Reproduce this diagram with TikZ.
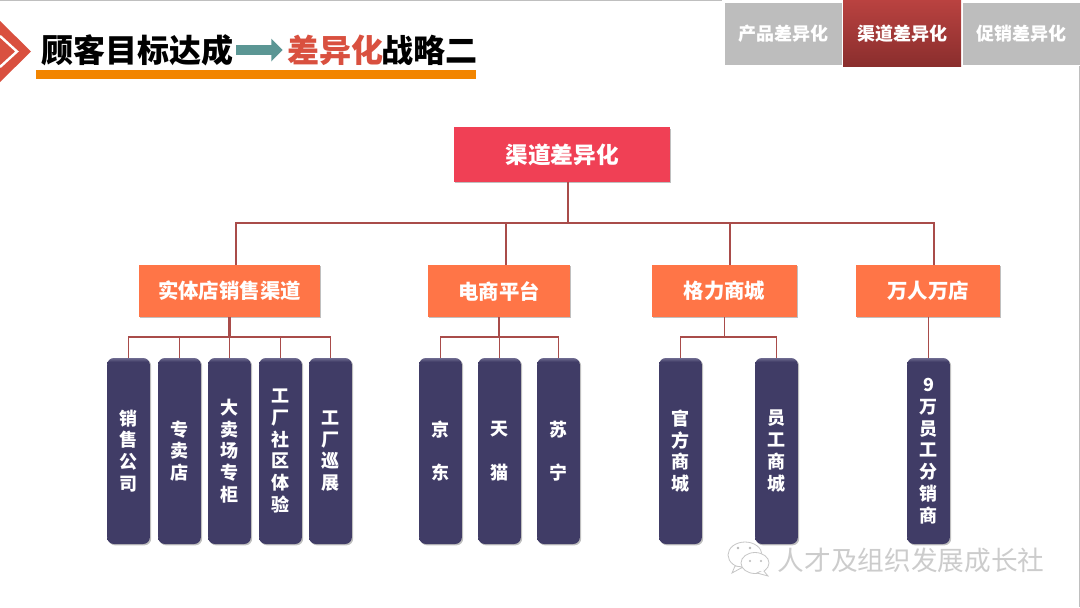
\documentclass[tikz,border=0pt]{standalone}
\usepackage{fontspec}
\setmainfont{Noto Sans CJK SC}[BoldFont={Noto Sans CJK SC Black}]
\usetikzlibrary{arrows.meta, shadows}

\definecolor{leafblue}{HTML}{403C66}
\definecolor{leaftop}{HTML}{6E6B90}
\definecolor{branchorange}{HTML}{FF7547}
\definecolor{rootred}{HTML}{F04055}
\definecolor{linkred}{HTML}{A94C4A}
\definecolor{titlered}{HTML}{D9503F}
\definecolor{barorange}{HTML}{F28500}
\definecolor{arrowteal}{HTML}{5B9694}
\definecolor{tabgray}{HTML}{BDBDBD}
\definecolor{tabred}{HTML}{B94240}
\definecolor{tabdark}{HTML}{8A2E2D}

\pgfdeclareverticalshading{leafshade}{100bp}{color(0bp)=(leafblue); color(74bp)=(leafblue); color(75bp)=(leaftop); color(100bp)=(leaftop)}

\tikzset{
	softshadow/.style={drop shadow={shadow xshift=1pt, shadow yshift=-1pt, opacity=.25, fill=black}},
	rootbox/.style={fill=rootred, softshadow, text=white, font=\fontsize{17}{20}\selectfont\bfseries, minimum width=162pt, minimum height=41pt, inner sep=0pt},
	branchbox/.style={fill=branchorange, softshadow, text=white, font=\fontsize{15.3}{18}\selectfont\bfseries, minimum height=39pt, inner sep=0pt},
	leafbox/.style={rounded corners=5pt, shading=leafshade, softshadow, text=white, font=\fontsize{13.5}{16.3}\selectfont\bfseries, minimum width=32pt, minimum height=139.5pt, inner sep=0pt, align=center},
	tabbox/.style={draw=white, fill=tabgray, text=white, font=\fontsize{13.5}{16}\selectfont\bfseries, minimum width=88.5pt, minimum height=47pt, inner sep=0pt},
	linkline/.style={draw=linkred, line width=1.4pt},
	trunkline/.style={draw=linkred, line width=2.2pt},
	titletext/.style={font=\fontsize{24}{28}\selectfont\bfseries, inner sep=0pt}
}

\begin{document}
\begin{tikzpicture}[x=.75pt, y=-.75pt]

	\useasboundingbox (0,0) rectangle (1080,607);
	\fill[white] (0,0) rectangle (1080,607);
	% frame lines of the slide
	\draw[gray!50, line width=.8pt] (0,.5) -- (722,.5);
	\draw[gray!50, line width=.8pt] (1079.5,66) -- (1079.5,607);

	% the chevron on the left
	\fill[titlered] (0,21) -- (31,51.5) -- (0,82) -- cycle;
	\draw[white, line width=1.8pt] (0,36) -- (17,51.5) -- (0,67);

	% title
	\fill[barorange] (36,70) rectangle (476,79);
	\node[titletext, text=black] (goal) at (137,50) {顾客目标达成};
	\node[titletext, text=titlered] (diff) at (335,50) {差异化};
	\node[titletext, text=black] (second) at (429,50) {战略二};
	\draw[arrowteal, line width=7.5pt, -{Triangle[length=8.5pt, width=16.5pt]}] (goal.east) ++(3,0) -- ([xshift=-3pt]diff.west);

	% tabs at the top
	\node[tabbox, softshadow] (tabproduct) at (783,33.5) {产品差异化};
	\node[tabbox] (tabpromo) at (1021,33.5) {促销差异化};
	\node[tabbox, draw=none, top color=tabred, bottom color=tabdark, minimum height=49pt] (tabchannel) at (902,33.5) {渠道差异化};

	% root and second row
	\node[rootbox] (channel) at (562,154.5) {渠道差异化};
	\node[branchbox, minimum width=135.75pt] (store) at (229.5,291) {实体店销售渠道};
	\node[branchbox, minimum width=106.5pt] (online) at (499,291) {电商平台};
	\node[branchbox, minimum width=108.75pt] (gree) at (724.5,291) {格力商城};
	\node[branchbox, minimum width=108pt] (million) at (928,291) {万人万店};

	% third row
	\foreach \name/\x/\txt in {
		sales/128.5/销\\售\\公\\司,
		shop/179.5/专\\卖\\店,
		mall/229.5/大\\卖\\场\\专\\柜,
		factory/280.5/工\\厂\\社\\区\\体\\验,
		tour/330.5/工\\厂\\巡\\展,
		jd/440.5/京\\ \\东,
		tmall/499.5/天\\ \\猫,
		suning/558.5/苏\\ \\宁,
		official/680.5/官\\方\\商\\城,
		staff/776.5/员\\工\\商\\城,
		seller/928.5/9\\万\\员\\工\\分\\销\\商}
		\node[leafbox] (\name) at (\x,451) {\txt};

	% connectors
	\foreach \name/\dx in {store/6.5, online/7, gree/5.5, million/6}
		\draw[linkline] ([shift={(6,0)}]channel.south) -- ++(0,41) -| ([shift={(\dx,0)}]\name.north);
	\draw[trunkline] ([shift={(6,0)}]channel.south) -- ++(0,41);
	\foreach \name in {sales, shop, mall, factory, tour}
		\draw[linkline] (store.south) -- ++(0,20) -| (\name.north);
	\draw[trunkline] (store.south) -- ++(0,20);
	\foreach \name in {jd, tmall, suning}
		\draw[linkline] (online.south) -- ++(0,20) -| (\name.north);
	\foreach \name in {official, staff}
		\draw[linkline] (gree.south) -- ++(0,20) -| (\name.north);
	\draw[linkline] (seller.north |- million.south) -- (seller.north);

	% watermark
	\node[text=white!60!gray, font=\fontsize{20}{24}\selectfont, inner sep=0pt] (mark) at (911,560) {人才及组织发展成长社};
	\begin{scope}[draw=gray!45, fill=white, line width=.6pt]
		\filldraw (745,555) ellipse [x radius=17, y radius=13];
		\filldraw (735,566) -- (732,573) -- (743,567) -- cycle;
		\filldraw (755,563) ellipse [x radius=14, y radius=10.5];
		\filldraw (763,570) -- (768,576) -- (757,573) -- cycle;
		\fill[white] (750,571) -- (764,571) -- (762,566) -- (750,566) -- cycle;
		\fill[gray!55] (738,548) circle (1.3) (750,548) circle (1.3) (750,561) circle (1.2) (761,561) circle (1.2);
	\end{scope}

\end{tikzpicture}
\end{document}
